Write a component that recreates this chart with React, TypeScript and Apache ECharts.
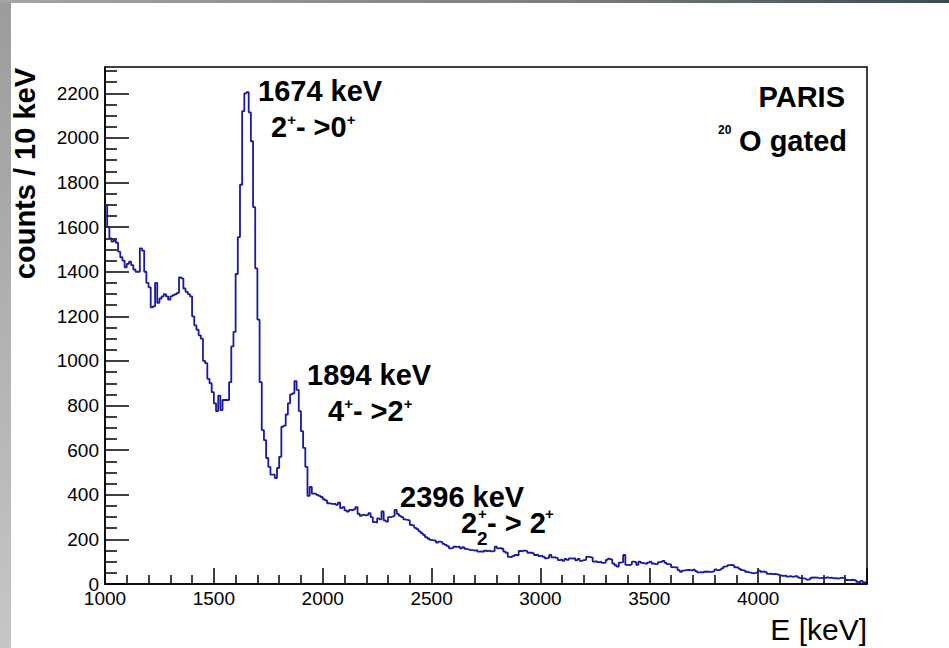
import React, { useEffect, useRef } from "react";
import * as echarts from "echarts";

// Gamma-ray spectrum, 10 keV bins starting at 1000 keV (one row = 100 keV)
const E_MIN = 1000;
const E_MAX = 4500;
const BIN_WIDTH = 10;

const counts: number[] = [
  /* 1000 */ 1700, 1600, 1550, 1535, 1540, 1530, 1490, 1465, 1450, 1420,
  /* 1100 */ 1435, 1445, 1430, 1410, 1400, 1400, 1505, 1495, 1400, 1350,
  /* 1200 */ 1330, 1240, 1245, 1350, 1260, 1280, 1290, 1300, 1290, 1275,
  /* 1300 */ 1290, 1295, 1300, 1305, 1375, 1370, 1325, 1310, 1300, 1290,
  /* 1400 */ 1200, 1160, 1140, 1115, 1100, 1000, 990, 920, 900, 860,
  /* 1500 */ 810, 775, 845, 780, 825, 825, 825, 905, 1065, 1130,
  /* 1600 */ 1390, 1555, 1790, 2120, 2200, 2205, 2115, 1985, 1690, 1415,
  /* 1700 */ 1185, 905, 690, 645, 565, 525, 490, 490, 475, 520,
  /* 1800 */ 570, 705, 710, 760, 810, 850, 855, 910, 870, 775,
  /* 1900 */ 685, 610, 525, 395, 435, 405, 405, 400, 395, 390,
  /* 2000 */ 380, 375, 362, 360, 358, 360, 355, 365, 340, 345,
  /* 2100 */ 330, 325, 332, 330, 335, 345, 315, 305, 310, 308,
  /* 2200 */ 310, 318, 300, 278, 275, 294, 290, 325, 285, 280,
  /* 2300 */ 300, 302, 305, 332, 314, 305, 300, 290, 287, 285,
  /* 2400 */ 265, 262, 252, 246, 236, 228, 220, 210, 204, 198,
  /* 2500 */ 196, 194, 186, 190, 188, 180, 175, 170, 160, 162,
  /* 2600 */ 167, 166, 168, 160, 165, 158, 155, 152, 152, 150,
  /* 2700 */ 152, 145, 146, 144, 149, 148, 150, 146, 148, 167,
  /* 2800 */ 160, 162, 158, 145, 140, 122, 120, 125, 130, 128,
  /* 2900 */ 148, 146, 150, 147, 140, 142, 138, 130, 132, 125,
  /* 3000 */ 127, 122, 115, 118, 130, 119, 121, 117, 107, 110,
  /* 3100 */ 104, 112, 108, 115, 114, 116, 106, 112, 104, 107,
  /* 3200 */ 108, 122, 120, 118, 100, 102, 98, 100, 95, 96,
  /* 3300 */ 108, 114, 110, 92, 84, 78, 96, 98, 130, 86,
  /* 3400 */ 85, 88, 100, 98, 86, 100, 95, 92, 90, 96,
  /* 3500 */ 100, 92, 89, 90, 98, 100, 104, 95, 89, 88,
  /* 3600 */ 76, 75, 74, 62, 55, 60, 62, 63, 62, 60,
  /* 3700 */ 64, 58, 52, 53, 51, 55, 56, 54, 55, 58,
  /* 3800 */ 66, 62, 64, 70, 78, 80, 85, 86, 84, 75,
  /* 3900 */ 74, 68, 62, 60, 55, 52, 50, 48, 50, 52,
  /* 4000 */ 60, 55, 57, 53, 45, 46, 44, 45, 43, 40,
  /* 4100 */ 37, 36, 38, 33, 35, 32, 34, 36, 30, 26,
  /* 4200 */ 25, 24, 20, 22, 28, 30, 29, 27, 26, 27,
  /* 4300 */ 28, 30, 27, 28, 25, 26, 24, 27, 28, 25,
  /* 4400 */ 18, 17, 19, 18, 16, 10, 8, 14, 7, 10,
];

// Axis ticks
const xMajorTicks = [1000, 1500, 2000, 2500, 3000, 3500, 4000, 4500];
const xTickLabels = [1000, 1500, 2000, 2500, 3000, 3500, 4000];
const xMinorTicks = [
  1100, 1200, 1300, 1400, 1600, 1700, 1800, 1900, 2100, 2200, 2300, 2400,
  2600, 2700, 2800, 2900, 3100, 3200, 3300, 3400, 3600, 3700, 3800, 3900,
  4100, 4200, 4300, 4400,
];
const yMajorTicks = [0, 200, 400, 600, 800, 1000, 1200, 1400, 1600, 1800, 2000, 2200];
const yMinorTicks = [
  50, 100, 150, 250, 300, 350, 450, 500, 550, 650, 700, 750, 850, 900, 950,
  1050, 1100, 1150, 1250, 1300, 1350, 1450, 1500, 1550, 1650, 1700, 1750,
  1850, 1900, 1950, 2050, 2100, 2150, 2250, 2300,
];
const Y_MAX = 2318;

const FONT = '"Liberation Sans", Arial, Helvetica, sans-serif';
const LINE_BLUE = "#1a1aa0";

export default function App() {
  const ref = useRef<HTMLDivElement>(null);

  useEffect(() => {
    document.body.style.margin = "0";
    if (!ref.current) return;
    const chart = echarts.init(ref.current, null, { renderer: "svg" });

    // histogram outline: one point per bin lower edge, closed at the upper range edge
    const histData: [number, number][] = counts.map((c, i) => [E_MIN + i * BIN_WIDTH, c]);
    histData.push([E_MAX, counts[counts.length - 1]]);

    const axisLine = { show: true, lineStyle: { color: "#000", width: 1.5 } };
    const labelStyle = {
      color: "#000",
      fontFamily: FONT,
      fontSize: 19,
      formatter: (v: number) => String(Math.round(v)),
    };

    const bold = (size: number) => ({ fontFamily: FONT, fontWeight: "bold" as const, fontSize: size, fill: "#000" });

    chart.setOption({
      animation: false,
      backgroundColor: "#ffffff",
      grid: {
        left: 105,
        right: 82,
        top: 67,
        bottom: 64,
        show: true,
        borderColor: "#000",
        borderWidth: 1.5,
        backgroundColor: "transparent",
      },
      xAxis: [
        {
          type: "value",
          min: E_MIN,
          max: E_MAX,
          interval: 500,
          axisLine,
          axisTick: { show: true, inside: true, length: 16, customValues: xMajorTicks, lineStyle: { color: "#000", width: 1.5 } },
          axisLabel: { ...labelStyle, margin: 5, customValues: xTickLabels },
          splitLine: { show: false },
        },
        {
          type: "value",
          min: E_MIN,
          max: E_MAX,
          position: "bottom",
          axisLine: { show: false },
          axisTick: { show: true, inside: true, length: 9, customValues: xMinorTicks, lineStyle: { color: "#000", width: 1.5 } },
          axisLabel: { show: false },
          splitLine: { show: false },
        },
      ],
      yAxis: [
        {
          type: "value",
          min: 0,
          max: Y_MAX,
          axisLine,
          axisTick: { show: true, inside: true, length: 24, customValues: yMajorTicks, lineStyle: { color: "#000", width: 1.5 } },
          axisLabel: { ...labelStyle, margin: 6, customValues: yMajorTicks },
          splitLine: { show: false },
        },
        {
          type: "value",
          min: 0,
          max: Y_MAX,
          position: "left",
          axisLine: { show: false },
          axisTick: { show: true, inside: true, length: 12, customValues: yMinorTicks, lineStyle: { color: "#000", width: 1.5 } },
          axisLabel: { show: false },
          splitLine: { show: false },
        },
      ],
      series: [
        {
          type: "line",
          xAxisIndex: 0,
          yAxisIndex: 0,
          step: "end",
          data: histData,
          showSymbol: false,
          symbol: "none",
          lineStyle: { color: LINE_BLUE, width: 1.8 },
          silent: true,
        },
      ],
      graphic: [
        // shaded page edges
        {
          type: "rect",
          left: 0,
          top: 0,
          shape: { x: 0, y: 0, width: 11, height: 648 },
          style: {
            fill: new echarts.graphic.LinearGradient(0, 0, 0, 1, [
              { offset: 0, color: "#9c9c9c" },
              { offset: 1, color: "#c6c6c6" },
            ]),
          },
          silent: true,
        },
        {
          type: "rect",
          left: 0,
          top: 0,
          shape: { x: 0, y: 0, width: 949, height: 3 },
          style: {
            fill: new echarts.graphic.LinearGradient(0, 0, 1, 0, [
              { offset: 0, color: "#a4a4a4" },
              { offset: 0.6, color: "#7a7e80" },
              { offset: 1, color: "#3c4a4f" },
            ]),
          },
          silent: true,
        },
        // axis titles
        {
          type: "text",
          x: 25,
          y: 68,
          rotation: Math.PI / 2,
          style: { text: "counts / 10 keV", ...bold(29), align: "right", verticalAlign: "middle" },
        },
        {
          type: "text",
          x: 867,
          y: 629,
          style: { text: "E [keV]", fontFamily: FONT, fontSize: 30, fill: "#000", align: "right", verticalAlign: "middle" },
        },
        // legend box text
        {
          type: "text",
          x: 845,
          y: 97,
          style: { text: "PARIS", ...bold(29), align: "right", verticalAlign: "middle" },
        },
        {
          type: "text",
          x: 847,
          y: 141,
          style: { text: "O gated", ...bold(29), align: "right", verticalAlign: "middle" },
        },
        {
          type: "text",
          x: 718,
          y: 130,
          style: { text: "20", ...bold(12), align: "left", verticalAlign: "middle" },
        },
        // peak annotations
        {
          type: "text",
          x: 258,
          y: 91,
          style: { text: "1674 keV", ...bold(29), align: "left", verticalAlign: "middle" },
        },
        {
          type: "text",
          x: 271,
          y: 127,
          style: {
            text: "{n|2}{p|+}{n|- >0}{p|+}",
            align: "left",
            verticalAlign: "middle",
            rich: {
              n: { ...bold(29), lineHeight: 30 },
              p: { ...bold(15), lineHeight: 30, verticalAlign: "top", padding: [0, 0, 14, 0] },
            },
          },
        },
        {
          type: "text",
          x: 307,
          y: 375,
          style: { text: "1894 keV", ...bold(29), align: "left", verticalAlign: "middle" },
        },
        {
          type: "text",
          x: 328,
          y: 411,
          style: {
            text: "{n|4}{p|+}{n|- >2}{p|+}",
            align: "left",
            verticalAlign: "middle",
            rich: {
              n: { ...bold(29), lineHeight: 30 },
              p: { ...bold(15), lineHeight: 30, verticalAlign: "top", padding: [0, 0, 14, 0] },
            },
          },
        },
        {
          type: "text",
          x: 400,
          y: 497,
          style: { text: "2396 keV", ...bold(29), align: "left", verticalAlign: "middle" },
        },
        {
          type: "text",
          x: 461,
          y: 523,
          style: { text: "2", ...bold(29), align: "left", verticalAlign: "middle" },
        },
        {
          type: "text",
          x: 477,
          y: 538,
          style: { text: "2", ...bold(19), align: "left", verticalAlign: "middle" },
        },
        {
          type: "text",
          x: 478,
          y: 513,
          style: { text: "+", ...bold(15), align: "left", verticalAlign: "middle" },
        },
        {
          type: "text",
          x: 487,
          y: 523,
          style: { text: "- > 2", ...bold(29), align: "left", verticalAlign: "middle" },
        },
        {
          type: "text",
          x: 545,
          y: 513,
          style: { text: "+", ...bold(15), align: "left", verticalAlign: "middle" },
        },
      ],
    });

    return () => chart.dispose();
  }, []);

  return <div ref={ref} style={{ width: 949, height: 648 }} />;
}
